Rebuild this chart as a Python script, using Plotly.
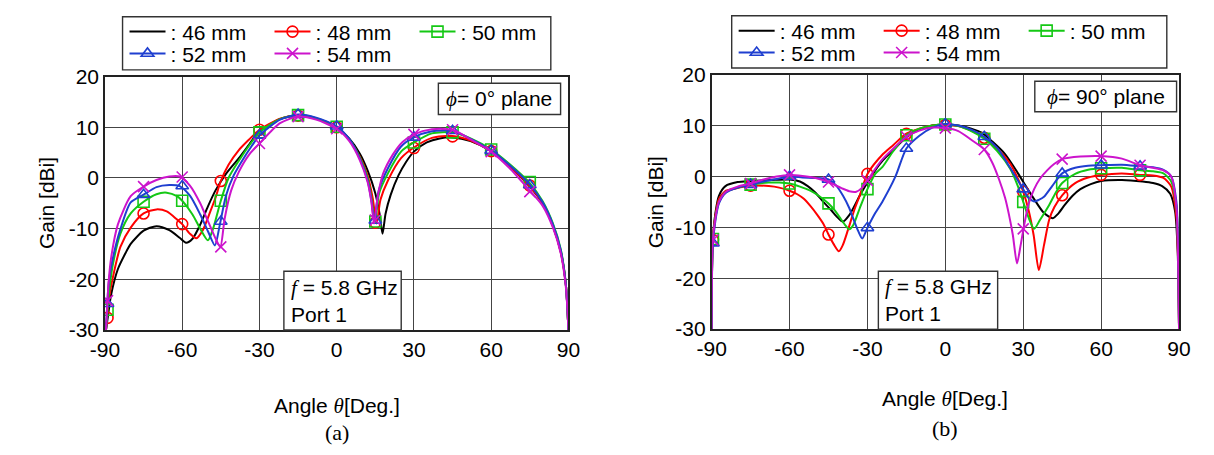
import plotly.graph_objects as go

# ---------------- data : (a) phi = 0 deg plane ----------------
A_MK_T = [-89, -75, -60, -45, -30, -15, 0, 15, 30, 45, 60, 75]

A46_T = [-89.6, -88.5, -87.6, -85, -82, -80, -75, -70, -65, -61, -58.5, -56, -53, -50, -47, -43, -38, -34, -30, -22, -15, -8, 0, 5, 9, 12, 15, 16.8, 17.8, 19, 21, 24, 27, 30, 35, 40, 45, 52, 60, 67, 75, 80, 84, 87, 89, 90]
A46_G = [-30, -26, -23, -18, -14.8, -13, -10.4, -9.5, -10.3, -11.8, -12.8, -12, -9.2, -5.6, -2.4, 0.8, 3.9, 6.6, 9.2, 11.6, 12.2, 11.7, 10, 7.7, 4.8, 1.5, -3, -7.5, -11, -7, -3.3, 0.5, 3.2, 5.2, 7, 7.8, 8, 7.3, 5.3, 2.4, -1.7, -5, -9.5, -14.5, -21, -30]

A48_T = [-89.6, -88.5, -87, -84, -80, -75, -70, -66, -62, -60, -57, -54.5, -52, -49, -47, -45, -42, -38, -34, -30, -22, -15, -8, 0, 5, 9, 12, 14, 15.5, 17, 20, 25, 30, 37, 45, 52, 60, 67, 75, 80, 84, 87, 89, 90]
A48_G = [-30, -24, -19.8, -13.6, -9.8, -7, -6.2, -6.6, -8.2, -9.1, -11, -11.9, -10.3, -6.5, -3.8, -0.6, 2.6, 5.5, 7.6, 9.5, 11.7, 12.3, 11.7, 10, 7.4, 4.2, 0.5, -4, -9, -4.3, -0.4, 3.9, 6, 7.9, 8.3, 7.4, 5.3, 2.4, -1.6, -5, -9.5, -14.5, -21, -30]
A48_M = [-27.6, -7, -9.1, -0.6, 9.5, 12.3, 10, -8.8, 5.9, 8.2, 5.3, -1.5]

A50_T = [-89.6, -88.5, -87, -84, -80, -75, -70, -66, -62, -60, -56, -53, -50, -48, -45, -42, -38, -34, -30, -22, -15, -8, 0, 5, 9, 12, 13.5, 14.8, 16.5, 20, 25, 30, 37, 45, 52, 60, 67, 75, 80, 84, 87, 89, 90]
A50_G = [-30, -23, -17.3, -11, -7, -4.7, -3.2, -2.9, -3.6, -4.5, -7.2, -10, -12.3, -10, -4.5, 0, 3.4, 6.4, 9, 11.6, 12.4, 11.8, 10.1, 7.5, 4, 0, -4, -8.8, -3, 1, 5.2, 7, 8.8, 9, 7.8, 5.6, 2.8, -1, -4.6, -9, -14, -21, -30]
A50_M = [-26, -4.7, -4.5, -4.5, 9, 12.4, 10.1, -8.6, 7, 9, 5.6, -0.8]

A52_T = [-89.6, -88.5, -87, -84, -80, -75, -70, -65, -61, -57, -53, -50, -47.3, -45.5, -43, -40, -36, -33, -30, -22, -15, -8, 0, 5, 9, 12, 13.5, 14.6, 16.3, 20, 25, 30, 37, 45, 52, 60, 67, 75, 80, 84, 87, 89, 90]
A52_G = [-30, -20.5, -16, -10.1, -4.8, -3.3, -1.8, -1.4, -1.6, -3.5, -7.2, -10.5, -13.3, -9.5, -3.5, 0.5, 4, 6.3, 8.4, 11.5, 12.5, 11.9, 10.2, 7.6, 3.8, -0.5, -4.5, -8.7, -2.5, 2, 6.2, 8, 9.2, 9.3, 7.7, 5.4, 2.6, -1.3, -4.8, -9.2, -14.2, -21, -30]
A52_M = [-24.8, -3.3, -1.6, -8.6, 8.4, 12.5, 10.2, -8.4, 8, 9.3, 5.4, -1.4]

A54_T = [-89.6, -88.5, -87.5, -85, -80, -75, -70, -65, -61, -57, -53, -50, -47, -45.2, -43.5, -41, -38, -34, -30, -22, -15, -8, 0, 5, 9, 12, 13.5, 14.5, 16, 18, 21.8, 25.6, 30, 37, 45, 52, 60, 67, 75, 80, 84, 87, 89, 90]
A54_G = [-30, -20, -15.4, -9.2, -3.6, -1.7, -0.4, 0.3, 0.3, -1.5, -5, -8.5, -12, -13.6, -8, -2.5, 1.2, 4.6, 6.8, 10.8, 12.1, 11.5, 9.7, 7.2, 3.5, -0.8, -4.8, -9, -3.5, 0.8, 4.6, 7.1, 8.6, 9.6, 9.5, 7.6, 5.2, 2, -2.5, -5.5, -9.8, -14.8, -21.5, -30]
A54_M = [-24.2, -1.7, 0.2, -13.6, 6.8, 12.1, 9.7, -8.3, 8.6, 9.5, 5.2, -2.7]

# ---------------- data : (b) phi = 90 deg plane ----------------
B_MK_T = [-89.5, -75, -60, -45, -30, -15, 0, 15, 30, 45, 60, 75]

B46_T = [-90, -89.6, -88.5, -87.2, -84.7, -80, -75, -67, -60, -56, -53, -50, -47, -44, -42, -39.5, -37, -35, -33, -30, -27, -24, -20, -15, -10, -5, 0, 5, 10, 14, 18, 23, 28, 31, 34, 38, 41.4, 43.5, 46, 49, 52, 56, 60, 68, 76, 80, 83.5, 86.6, 88.5, 89.5, 90]
B46_G = [-30, -13, -7, -3.8, -1.9, -1.1, -0.9, -0.7, -0.6, -1, -1.9, -3.2, -5, -6.6, -7.8, -8.9, -7.6, -5.8, -3.8, -1.2, 1.2, 3.2, 5.2, 7.7, 9.2, 10, 10.2, 10, 9.4, 8.6, 6.9, 4.4, 0.6, -1.9, -4.3, -7.2, -8.2, -7.3, -5.6, -3.8, -2.5, -1.5, -0.9, -0.7, -1, -1.3, -1.9, -3.4, -6.9, -15, -30]

B48_T = [-90, -89.6, -88.5, -87.2, -84.5, -82, -75, -68, -64, -60, -57, -54.5, -52, -49.4, -47, -45, -43, -41, -39.5, -37.5, -35, -33, -30, -24, -20, -15, -10, -5, 0, 5, 10, 15, 20, 25, 28, 30, 32, 34, 36, 38, 40, 42, 45, 50, 55, 60, 68, 75, 80, 84, 87, 89, 89.7, 90]
B48_G = [-30, -13, -7.5, -4.4, -2.8, -2.5, -1.8, -1.9, -2.2, -2.8, -3.5, -4.4, -5.8, -7.5, -9.3, -11.4, -13.3, -14.7, -13.5, -10.5, -6.5, -3.8, 0.5, 4.4, 6.2, 8.4, 9.4, 10, 10.1, 9.9, 9, 7.6, 5.5, 2.5, -0.5, -3, -6.5, -11.5, -18.4, -13.5, -8.5, -6, -3.7, -1.3, -0.2, 0.3, 0.6, 0.3, 0.2, -0.3, -2, -8, -18, -30]
B48_M = [-12.5, -1.8, -2.8, -11.4, 0.5, 8.4, 10.1, 7.6, -3, -3.7, 0.3, 0.3]

B50_T = [-90, -89.6, -88.5, -87.2, -84.5, -80, -75, -68, -64, -60, -56, -52, -48.5, -45, -42.5, -40.6, -38.5, -37, -35.5, -33, -30, -27, -24.2, -20, -15, -10, -5, 0, 5, 10, 15, 20, 25, 28, 30, 32, 34.2, 36.5, 40, 42.5, 45, 50, 55, 60, 68, 75, 80, 84, 87, 89, 89.7, 90]
B50_G = [-30, -13, -8, -5, -3, -2.2, -1.6, -1.2, -1.2, -1.4, -2, -2.8, -3.9, -5.3, -6.7, -8.1, -9.6, -10.4, -9.6, -6.3, -2.5, 0.5, 1.9, 5, 8.1, 9.4, 10, 10.2, 9.9, 8.9, 7.4, 5, 1.5, -2, -5, -8, -10.3, -8.5, -5.6, -3.2, -1.3, 0.5, 1.3, 1.6, 1.7, 1.2, 1, 0.6, -1, -6, -17, -30]
B50_M = [-12.3, -1.6, -1.4, -5.3, -2.5, 8.1, 10.2, 7.4, -5, -1.3, 1.6, 1.2]

B52_T = [-90, -89.6, -88.5, -87.2, -84.5, -80, -75, -70, -65, -60, -55, -50, -45, -42, -39.4, -37, -35.6, -33.5, -32, -30, -27, -24.3, -19.2, -15, -10, -5, 0, 5, 10, 15, 20, 24, 27, 30, 32, 34.2, 36, 38, 41, 45, 50, 55, 60, 68, 75, 80, 84, 87, 89, 89.7, 90]
B52_G = [-30, -14, -8.5, -5.3, -3.2, -2.2, -1.6, -1, -0.5, 0, -0.2, -0.3, -0.6, -1.8, -3.8, -6.2, -8.1, -10.8, -12.2, -10.1, -7.2, -5, 0, 5.5, 8, 9.6, 10.3, 10, 9.2, 7.8, 5.6, 2.5, 0, -2.5, -4.2, -4.9, -4.6, -4, -2, 0.6, 1.7, 2.1, 2.2, 2.3, 2, 1.8, 1.3, 0, -5, -16, -30]
B52_M = [-13.1, -1.6, 0, -0.6, -10.1, 5.5, 10.3, 7.8, -2.5, 0.6, 2.2, 2]

B54_T = [-90, -89.6, -88.5, -87.2, -84.5, -80, -75, -70, -65, -60, -55, -50, -45, -40, -37, -34.3, -32, -30, -27, -24, -20, -15, -10, -5, 0, 5, 10, 15, 18, 20.7, 23, 24.5, 26, 27.6, 29, 30.1, 32, 34.2, 36.5, 39.3, 42, 45, 52, 60, 68, 75, 80, 84, 87, 89, 89.7, 90]
B54_G = [-30, -13, -8, -5, -3, -2, -1.4, -0.6, 0, 0.3, 0.1, -0.3, -1.1, -2.3, -2.9, -3, -2.2, -0.8, 1.5, 3.5, 5.5, 7.8, 9, 9.6, 9.5, 8.9, 7.2, 5.3, 2.8, -0.6, -4.2, -7.5, -11.5, -17.1, -13.5, -10.3, -5.5, -2.5, -0.4, 1.25, 2.5, 3.4, 3.9, 4, 3.5, 2.2, 1.7, 1.2, 0, -6, -18, -30]
B54_M = [-12.5, -1.4, 0.3, -1.1, -0.8, 7.8, 9.5, 5.3, -10.3, 3.4, 4, 2.2]

X_TICKS = [-90, -60, -30, 0, 30, 60, 90]
X_TICKTEXT = ["-90", "-60", "-30", "0", "30", "60", "90"]
Y_TICKS = [-30, -20, -10, 0, 10, 20]
Y_TICKTEXT = ["-30", "-20", "-10", "0", "10", "20"]
NAMES = [": 46 mm", ": 48 mm", ": 50 mm", ": 52 mm", ": 54 mm"]

# ---------------- styling ----------------
W, H = 1214, 455
SANS = "Liberation Sans, Arial, sans-serif"
SERIF = "Liberation Serif, Times New Roman, serif"
COLORS = ["#000000", "#ff0000", "#14c814", "#1f3fd0", "#cc14cc"]
SYMBOLS = [None, "circle-open", "square-open", "triangle-up-open", "x-thin-open"]


def fx(p):
    return p / W


def fy(p):
    return 1 - p / H


fig = go.Figure()

plots = [
    ("x", "y", A_MK_T,
     [(A46_T, A46_G, None), (A48_T, A48_G, A48_M), (A50_T, A50_G, A50_M),
      (A52_T, A52_G, A52_M), (A54_T, A54_G, A54_M)],
     ["legend", "legend", "legend", "legend2", "legend2"]),
    ("x2", "y2", B_MK_T,
     [(B46_T, B46_G, None), (B48_T, B48_G, B48_M), (B50_T, B50_G, B50_M),
      (B52_T, B52_G, B52_M), (B54_T, B54_G, B54_M)],
     ["legend3", "legend3", "legend3", "legend4", "legend4"]),
]

for xa, ya, mk_t, series, legs in plots:
    for i, (t, g, m) in enumerate(series):
        col = COLORS[i]
        fig.add_trace(go.Scatter(
            x=t, y=g, mode="lines", xaxis=xa, yaxis=ya, showlegend=False,
            line=dict(color=col, width=2, shape="spline", smoothing=0.7),
            hoverinfo="skip"))
        if m is not None:
            fig.add_trace(go.Scatter(
                x=mk_t, y=m, mode="markers", xaxis=xa, yaxis=ya, showlegend=False,
                marker=dict(symbol=SYMBOLS[i], size=11, color=col,
                            line=dict(color=col, width=1.6)),
                hoverinfo="skip"))
        # legend entry
        if SYMBOLS[i] is None:
            fig.add_trace(go.Scatter(
                x=[None], y=[None], mode="lines", xaxis=xa, yaxis=ya,
                name=NAMES[i], legend=legs[i], line=dict(color=col, width=2)))
        else:
            fig.add_trace(go.Scatter(
                x=[None], y=[None], mode="lines+markers", xaxis=xa, yaxis=ya,
                name=NAMES[i], legend=legs[i], line=dict(color=col, width=2),
                marker=dict(symbol=SYMBOLS[i], size=11, color=col,
                            line=dict(color=col, width=1.6))))

axis_common = dict(
    showgrid=True, gridcolor="#444444", gridwidth=1.2,
    showline=True, mirror=True, linecolor="#222222", linewidth=1.5,
    zeroline=False, ticks="", tickfont=dict(family=SANS, size=21, color="black"),
)

fig.update_layout(
    width=W, height=H, margin=dict(l=0, r=0, t=0, b=0),
    paper_bgcolor="white", plot_bgcolor="white",
    xaxis=dict(domain=[fx(92), fx(566)], anchor="y", range=[-90, 90],
               tickvals=X_TICKS, ticktext=X_TICKTEXT, **axis_common),
    yaxis=dict(domain=[fy(335), fy(68)], anchor="x", range=[-30, 20],
               tickvals=Y_TICKS, ticktext=Y_TICKTEXT, **axis_common),
    xaxis2=dict(domain=[fx(712.5), fx(1190.5)], anchor="y2", range=[-90, 90],
                tickvals=X_TICKS, ticktext=X_TICKTEXT, **axis_common),
    yaxis2=dict(domain=[fy(334), fy(66)], anchor="x2", range=[-30, 20],
                tickvals=Y_TICKS, ticktext=Y_TICKTEXT, **axis_common),
)

leg_common = dict(
    orientation="h", xanchor="left", yanchor="middle",
    bgcolor="rgba(0,0,0,0)", borderwidth=0,
    font=dict(family=SANS, size=21, color="black"),
    itemwidth=36, entrywidth=94, entrywidthmode="pixels",
    tracegroupgap=0, itemclick=False, itemdoubleclick=False,
)
fig.update_layout(
    legend=dict(x=fx(112), y=fy(21), **leg_common),
    legend2=dict(x=fx(112), y=fy(44), **leg_common),
    legend3=dict(x=fx(735), y=fy(20), **leg_common),
    legend4=dict(x=fx(735), y=fy(43), **leg_common),
)

shapes = []
boxes = [(110, 5, 548, 61), (733, 4, 1178, 59),            # legend frames
         (433, 75, 558, 108), (1043, 73, 1188, 105),        # phi boxes
         (275, 273, 395, 335), (883, 273, 1005, 334)]       # f / port boxes
for x0, y0, x1, y1 in boxes:
    shapes.append(dict(type="rect", xref="paper", yref="paper",
                       x0=fx(x0), x1=fx(x1), y0=fy(y1), y1=fy(y0),
                       line=dict(color="#333333", width=1.4),
                       fillcolor="white", layer="above"))
fig.update_layout(shapes=shapes)

theta = '<span style="font-family:Liberation Serif"><i>θ</i></span>'
phi = '<span style="font-family:Liberation Serif"><i>ϕ</i></span>'
fitalic = '<span style="font-family:Liberation Serif"><i>f</i></span>'

ann = []


def add_text(text, x, y, size=21, family=SANS, angle=0, xanchor="center", align="center"):
    ann.append(dict(text=text, x=fx(x), y=fy(y), xref="paper", yref="paper",
                    showarrow=False, xanchor=xanchor, yanchor="middle", align=align,
                    textangle=angle, font=dict(family=family, size=size, color="black")))


add_text("Gain [dBi]", 33, 201, angle=-90)
add_text("Gain [dBi]", 655, 200, angle=-90)
add_text("Angle " + theta + "[Deg.]", 329, 415)
add_text("Angle " + theta + "[Deg.]", 951, 408)
add_text("(a)", 329, 443, size=22, family=SERIF)
add_text("(b)", 951, 439, size=22, family=SERIF)
add_text(phi + "= 0° plane", 495.5, 91.5)
add_text(phi + "= 90° plane", 1115.5, 89)
add_text(fitalic + " = 5.8 GHz<br>Port 1", 280, 304, xanchor="left", align="left")
add_text(fitalic + " = 5.8 GHz<br>Port 1", 888, 303.5, xanchor="left", align="left")
fig.update_layout(annotations=ann)

fig.write_html("out.html")
